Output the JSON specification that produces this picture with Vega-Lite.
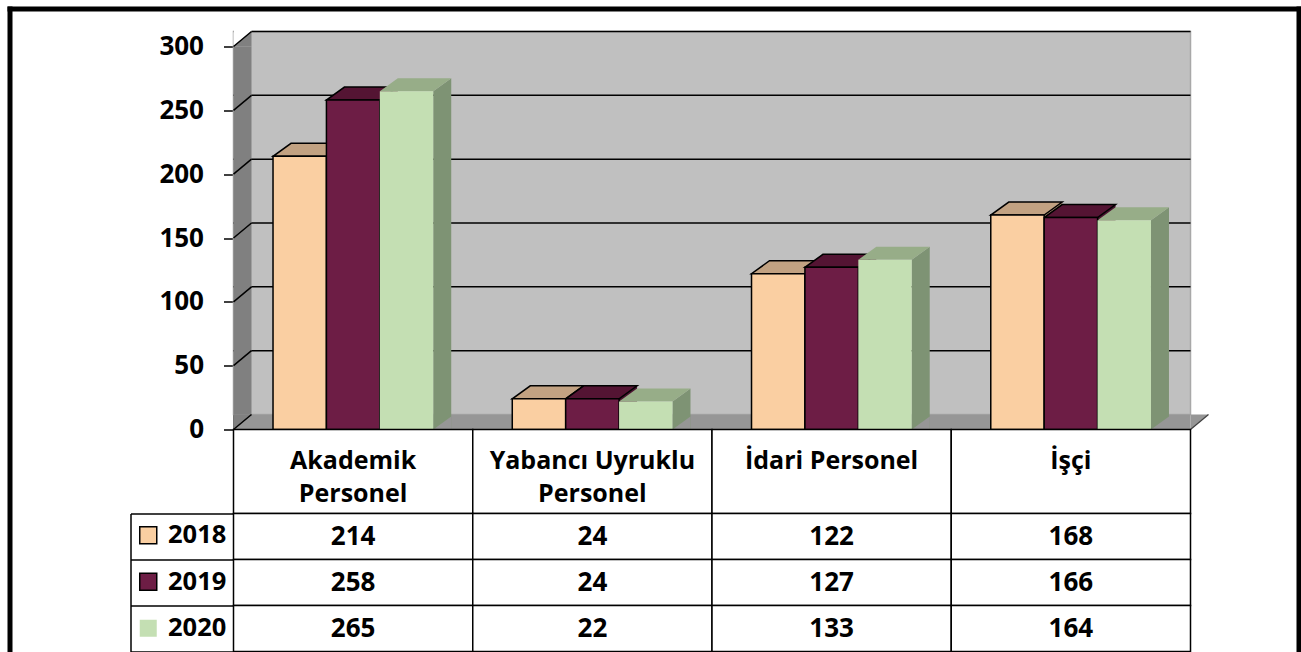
{
  "$schema": "https://vega.github.io/schema/vega-lite/v6.json",
  "padding": {"left": 4.5, "top": 3.5, "right": 0, "bottom": 0},
  "background": "white",
  "config": {
    "view": {"stroke": null},
    "axis": {"grid": false},
    "axisY": {"domainColor": "black", "domainWidth": 1.5, "tickColor": "black", "tickWidth": 1.5, "tickSize": 10, "labelFont": "Open Sans", "labelFontSize": 26, "labelFontWeight": "bold", "labelColor": "black", "labelPadding": 20}
  },
  "datasets": {
    "bars": [
      {"cat": "Akademik Personel", "year": "2018", "value": 214},
      {"cat": "Akademik Personel", "year": "2019", "value": 258},
      {"cat": "Akademik Personel", "year": "2020", "value": 265},
      {"cat": "Yabancı Uyruklu Personel", "year": "2018", "value": 24},
      {"cat": "Yabancı Uyruklu Personel", "year": "2019", "value": 24},
      {"cat": "Yabancı Uyruklu Personel", "year": "2020", "value": 22},
      {"cat": "İdari Personel", "year": "2018", "value": 122},
      {"cat": "İdari Personel", "year": "2019", "value": 127},
      {"cat": "İdari Personel", "year": "2020", "value": 133},
      {"cat": "İşçi", "year": "2018", "value": 168},
      {"cat": "İşçi", "year": "2019", "value": 166},
      {"cat": "İşçi", "year": "2020", "value": 164}
    ],
    "cats": [
      {"cat": "Akademik Personel", "label": "Akademik\nPersonel"},
      {"cat": "Yabancı Uyruklu Personel", "label": "Yabancı Uyruklu\nPersonel"},
      {"cat": "İdari Personel", "label": "İdari Personel"},
      {"cat": "İşçi", "label": "İşçi"}
    ],
    "grid": [{"v": 50}, {"v": 100}, {"v": 150}, {"v": 200}, {"v": 250}, {"v": 300}],
    "slant": [{"v": 0}, {"v": 50}, {"v": 100}, {"v": 150}, {"v": 200}, {"v": 250}, {"v": 300}],
    "one": [{"k": 1}]
  },
  "spacing": 0,
  "bounds": "flush",
  "vconcat": [
    {
      "width": 957,
      "height": 383,
      "layer": [
        {
          "data": {"name": "one"},
          "mark": {"type": "rect", "fill": "#C0C0C0", "stroke": "#A8A8A8", "strokeWidth": 1.5, "x2Offset": 18, "yOffset": -15, "y2Offset": -15},
          "encoding": {
            "y": {"datum": 300, "type": "quantitative", "scale": {"domain": [0, 300], "nice": false}, "axis": {"title": null, "values": [0, 50, 100, 150, 200, 250, 300]}},
            "y2": {"datum": 0}
          }
        },
        {
          "data": {"name": "grid"},
          "mark": {"type": "rule", "stroke": "black", "strokeWidth": 1.5, "x2Offset": 18, "yOffset": -15},
          "encoding": {
            "y": {"field": "v", "type": "quantitative", "axis": {"title": null, "values": [0, 50, 100, 150, 200, 250, 300]}}
          }
        },
        {
          "data": {"name": "one"},
          "mark": {"type": "point", "shape": "M0,0L0,-17L18,-17L18,-15Z", "size": 4, "filled": true, "fill": "white", "opacity": 1, "strokeWidth": 0},
          "encoding": {
            "x": {"datum": "Akademik Personel", "type": "nominal", "bandPosition": 0, "axis": null, "scale": {"domain": ["Akademik Personel", "Yabancı Uyruklu Personel", "İdari Personel", "İşçi"], "paddingInner": 0, "paddingOuter": 0}},
            "y": {"datum": 300, "type": "quantitative", "axis": {"title": null, "values": [0, 50, 100, 150, 200, 250, 300]}}
          }
        },
        {
          "data": {"name": "one"},
          "mark": {"type": "rect", "fill": "#969696", "yOffset": -15},
          "encoding": {
            "y": {"datum": 0, "type": "quantitative", "axis": {"title": null, "values": [0, 50, 100, 150, 200, 250, 300]}},
            "y2": {"datum": 0}
          }
        },
        {
          "data": {"name": "one"},
          "mark": {"type": "point", "shape": "M0,0L0,-15L18,-15Z", "size": 4, "filled": true, "fill": "#969696", "opacity": 1, "strokeWidth": 0},
          "encoding": {
            "x": {"datum": "İşçi", "type": "nominal", "bandPosition": 1, "axis": null},
            "y": {"datum": 0, "type": "quantitative", "axis": {"title": null, "values": [0, 50, 100, 150, 200, 250, 300]}}
          }
        },
        {
          "data": {"name": "one"},
          "mark": {"type": "point", "shape": "M0,0L18,-15", "size": 4, "filled": false, "stroke": "#404040", "opacity": 1, "strokeWidth": 1.2},
          "encoding": {
            "x": {"datum": "İşçi", "type": "nominal", "bandPosition": 1, "axis": null},
            "y": {"datum": 0, "type": "quantitative", "axis": {"title": null, "values": [0, 50, 100, 150, 200, 250, 300]}}
          }
        },
        {
          "data": {"name": "one"},
          "mark": {"type": "rule", "stroke": "#808080", "strokeWidth": 18, "xOffset": 9, "y2Offset": -15},
          "encoding": {
            "x": {"datum": "Akademik Personel", "type": "nominal", "bandPosition": 0, "axis": null},
            "y": {"datum": 300, "type": "quantitative", "axis": {"title": null, "values": [0, 50, 100, 150, 200, 250, 300]}},
            "y2": {"datum": 0}
          }
        },
        {
          "data": {"name": "one"},
          "mark": {"type": "point", "shape": "M0,0L18,-15L18,0Z", "size": 4, "filled": true, "fill": "#808080", "opacity": 1, "strokeWidth": 0},
          "encoding": {
            "x": {"datum": "Akademik Personel", "type": "nominal", "bandPosition": 0, "axis": null},
            "y": {"datum": 300, "type": "quantitative", "axis": {"title": null, "values": [0, 50, 100, 150, 200, 250, 300]}}
          }
        },
        {
          "data": {"name": "one"},
          "mark": {"type": "point", "shape": "M0,0L0,-15L18,-15Z", "size": 4, "filled": true, "fill": "#808080", "opacity": 1, "strokeWidth": 0},
          "encoding": {
            "x": {"datum": "Akademik Personel", "type": "nominal", "bandPosition": 0, "axis": null},
            "y": {"datum": 0, "type": "quantitative", "axis": {"title": null, "values": [0, 50, 100, 150, 200, 250, 300]}}
          }
        },
        {
          "data": {"name": "slant"},
          "mark": {"type": "point", "shape": "M0,0L18,-15", "size": 4, "filled": false, "stroke": "black", "opacity": 1, "strokeWidth": 1.5},
          "encoding": {
            "x": {"datum": "Akademik Personel", "type": "nominal", "bandPosition": 0, "axis": null},
            "y": {"field": "v", "type": "quantitative", "axis": {"title": null, "values": [0, 50, 100, 150, 200, 250, 300]}}
          }
        },
        {
          "data": {"name": "bars"},
          "transform": [{"filter": "datum.value < 150"}],
          "mark": {"type": "point", "shape": "M26.7,0L44.7,-13L44.7,200L26.7,200Z", "size": 4, "filled": true, "opacity": 1, "strokeWidth": 0},
          "encoding": {
            "x": {"field": "cat", "type": "nominal", "axis": null},
            "xOffset": {"field": "year", "type": "nominal", "scale": {"domain": ["2018", "2019", "2020"], "paddingInner": 0, "paddingOuter": 0.74}},
            "y": {"field": "value", "type": "quantitative", "axis": {"title": null, "values": [0, 50, 100, 150, 200, 250, 300]}},
            "fill": {"condition": [{"test": "datum.year === '2018'", "value": "#BE9E7E"}, {"test": "datum.year === '2019'", "value": "#4A1230"}], "value": "#7E9374"}
          }
        },
        {
          "data": {"name": "bars"},
          "transform": [{"filter": "datum.value >= 150"}],
          "mark": {"type": "point", "shape": "M26.7,0L44.7,-13L44.7,390L26.7,390Z", "size": 4, "filled": true, "opacity": 1, "strokeWidth": 0},
          "encoding": {
            "x": {"field": "cat", "type": "nominal", "axis": null},
            "xOffset": {"field": "year", "type": "nominal"},
            "y": {"field": "value", "type": "quantitative", "axis": {"title": null, "values": [0, 50, 100, 150, 200, 250, 300]}},
            "fill": {"condition": [{"test": "datum.year === '2018'", "value": "#BE9E7E"}, {"test": "datum.year === '2019'", "value": "#4A1230"}], "value": "#7E9374"}
          }
        },
        {
          "data": {"name": "bars"},
          "mark": {"type": "point", "shape": "M26.7,0L44.7,-13L44.7,0Z", "size": 4, "filled": true, "fill": "#969696", "opacity": 1, "strokeWidth": 0},
          "encoding": {
            "x": {"field": "cat", "type": "nominal", "axis": null},
            "xOffset": {"field": "year", "type": "nominal"},
            "y": {"datum": 0, "type": "quantitative", "axis": {"title": null, "values": [0, 50, 100, 150, 200, 250, 300]}}
          }
        },
        {
          "data": {"name": "bars"},
          "mark": {"type": "point", "shape": "M-26.7,0L26.7,0L44.7,-13L-8.7,-13Z", "size": 4, "filled": true, "opacity": 1, "strokeWidth": 1.5},
          "encoding": {
            "x": {"field": "cat", "type": "nominal", "axis": null},
            "xOffset": {"field": "year", "type": "nominal"},
            "y": {"field": "value", "type": "quantitative", "axis": {"title": null, "values": [0, 50, 100, 150, 200, 250, 300]}},
            "fill": {"condition": [{"test": "datum.year === '2018'", "value": "#C2A282"}, {"test": "datum.year === '2019'", "value": "#541433"}], "value": "#97AD88"},
            "stroke": {"condition": {"test": "datum.year === '2020'", "value": "transparent"}, "value": "black"}
          }
        },
        {
          "data": {"name": "bars"},
          "mark": {"type": "bar", "strokeWidth": 1.5},
          "encoding": {
            "x": {"field": "cat", "type": "nominal", "axis": null},
            "xOffset": {"field": "year", "type": "nominal"},
            "y": {"field": "value", "type": "quantitative", "axis": {"title": null, "values": [0, 50, 100, 150, 200, 250, 300]}},
            "fill": {"field": "year", "type": "nominal", "scale": {"domain": ["2018", "2019", "2020"], "range": ["#FACFA2", "#6D1D45", "#C4DFB3"]},
              "legend": {"orient": "none", "legendX": -98, "legendY": 476, "title": null, "symbolType": "square", "symbolSize": 289, "symbolStrokeWidth": 1.5, "labelFont": "Open Sans", "labelFontSize": 25.5, "labelFontWeight": "bold", "labelColor": "black", "labelOffset": 7, "rowPadding": 19.5, "padding": 0, "offset": 0}},
            "stroke": {"field": "year", "type": "nominal", "scale": {"domain": ["2018", "2019", "2020"], "range": ["black", "black", "transparent"]},
              "legend": {"orient": "none", "legendX": -98, "legendY": 476, "title": null, "symbolType": "square", "symbolSize": 289, "symbolStrokeWidth": 1.5, "labelFont": "Open Sans", "labelFontSize": 25.5, "labelFontWeight": "bold", "labelColor": "black", "labelOffset": 7, "rowPadding": 19.5, "padding": 0, "offset": 0}}
          }
        },
        {
          "data": {"name": "one"},
          "mark": {"type": "rule", "stroke": "black", "strokeWidth": 5, "xOffset": -223.5, "yOffset": -40, "y2Offset": 224},
          "encoding": {
            "x": {"datum": "Akademik Personel", "type": "nominal", "bandPosition": 0, "axis": null},
            "y": {"datum": 300, "type": "quantitative", "axis": {"title": null, "values": [0, 50, 100, 150, 200, 250, 300]}},
            "y2": {"datum": 0}
          }
        },
        {
          "data": {"name": "one"},
          "mark": {"type": "rule", "stroke": "black", "strokeWidth": 5, "xOffset": -226, "x2Offset": 231, "yOffset": -37.5},
          "encoding": {
            "x": {"datum": "Akademik Personel", "type": "nominal", "bandPosition": 0, "axis": null},
            "x2": {"datum": "İşçi"},
            "y": {"datum": 300, "type": "quantitative", "axis": {"title": null, "values": [0, 50, 100, 150, 200, 250, 300]}}
          }
        },
        {
          "data": {"name": "one"},
          "mark": {"type": "rule", "stroke": "black", "strokeWidth": 5, "xOffset": 108.5, "yOffset": -40, "y2Offset": 224},
          "encoding": {
            "x": {"datum": "İşçi", "type": "nominal", "bandPosition": 1, "axis": null},
            "y": {"datum": 300, "type": "quantitative", "axis": {"title": null, "values": [0, 50, 100, 150, 200, 250, 300]}},
            "y2": {"datum": 0}
          }
        }
      ]
    },
    {
      "width": 957,
      "height": 84,
      "data": {"name": "cats"},
      "encoding": {
        "x": {"field": "cat", "type": "nominal", "scale": {"domain": ["Akademik Personel", "Yabancı Uyruklu Personel", "İdari Personel", "İşçi"], "paddingInner": 0, "paddingOuter": 0}, "axis": null}
      },
      "layer": [
        {"mark": {"type": "rect", "fill": "white", "stroke": "black", "strokeWidth": 1.5}},
        {
          "mark": {"type": "text", "font": "Open Sans", "fontSize": 25, "fontWeight": "bold", "color": "black", "baseline": "alphabetic", "dy": -3, "lineBreak": "\n", "lineHeight": 33},
          "encoding": {"text": {"field": "label", "type": "nominal"}}
        }
      ]
    },
    {
      "width": 957,
      "height": 138,
      "data": {"name": "bars"},
      "encoding": {
        "x": {"field": "cat", "type": "nominal", "scale": {"domain": ["Akademik Personel", "Yabancı Uyruklu Personel", "İdari Personel", "İşçi"], "paddingInner": 0, "paddingOuter": 0}, "axis": null},
        "y": {"field": "year", "type": "ordinal", "scale": {"domain": ["2018", "2019", "2020"], "paddingInner": 0, "paddingOuter": 0},
          "axis": {"orient": "left", "offset": 103, "labels": false, "title": null, "domainColor": "black", "domainWidth": 1.5, "ticks": true, "tickBand": "extent", "tickSize": -103, "tickColor": "black", "tickWidth": 1.5, "grid": false}}
      },
      "layer": [
        {"mark": {"type": "rect", "fill": "white", "stroke": "black", "strokeWidth": 1.5}},
        {
          "mark": {"type": "text", "font": "Open Sans", "fontSize": 26, "fontWeight": "bold", "color": "black", "baseline": "middle"},
          "encoding": {"text": {"field": "value", "type": "quantitative"}}
        }
      ]
    }
  ]
}
